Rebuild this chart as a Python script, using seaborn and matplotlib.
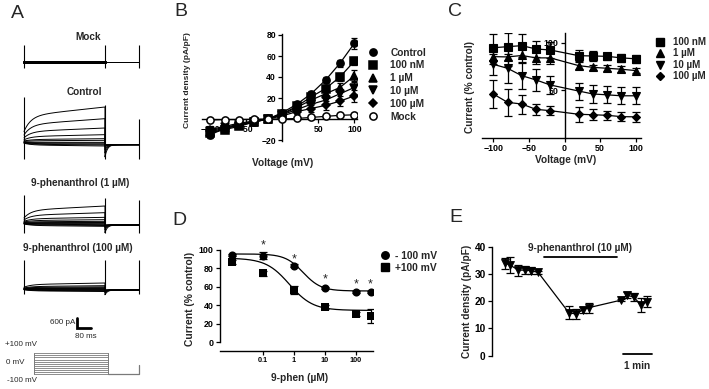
import numpy as np
import pandas as pd
import matplotlib
matplotlib.use("Agg")
import matplotlib.pyplot as plt
from matplotlib.lines import Line2D
import seaborn as sns

sns.set_theme(style="white")
plt.rcParams['font.family'] = ['Liberation Sans', 'DejaVu Sans']
plt.rcParams['font.weight'] = 'bold'
plt.rcParams['axes.linewidth'] = 1.0
plt.rcParams['axes.edgecolor'] = 'black'
plt.rcParams['xtick.color'] = 'black'
plt.rcParams['ytick.color'] = 'black'

# ---------------- data ----------------
# Panel A : step amplitudes (pA, end of pulse) for -100..+100 mV steps
step_mV = [-100, -80, -60, -40, -20, 0, 20, 40, 60, 80, 100]
amp_mock = [0, 0, 0, 0, 0, 0, 0, 0, 0, 0, 0]
amp_control = [-240, -180, -130, -70, -20, 100, 200, 440, 840, 1400, 2100]
amp_1uM = [-200, -150, -100, -50, -10, 30, 100, 200, 340, 620, 1020]
amp_100uM = [-150, -110, -80, -50, -20, 10, 40, 80, 130, 200, 360]

# Panel B : I-V
iv_voltage = [-100, -80, -60, -40, -20, 0, 20, 40, 60, 80, 100]
iv_control = [-15, -9, -5.6, -2.5, 0, 6, 14, 24, 37, 53, 72]
iv_100nM = [-13, -10, -7, -3, 0, 5, 12, 21, 29, 40, 55]
iv_1uM = [-12, -9, -6, -3, 0, 4.5, 11, 18, 24, 30, 41]
iv_10uM = [-11, -8, -5, -2.5, 0, 4, 9, 14, 18, 24, 30]
iv_100uM = [-10, -7, -4, -2, 0, 3, 7, 10, 13, 17, 22]
iv_mock = [-1, -0.5, -0.5, -0.3, 0, 0, 0.5, 1.5, 2.5, 3.5, 4]
err_control = [3, 2.5, 2, 1.5, 1, 1.5, 2, 3, 3, 3, 5]
err_100nM = [3, 3, 2, 1.5, 1, 1.5, 2, 3, 3, 4, 4]
err_1uM = [3, 3, 2, 1.5, 1, 1.5, 2, 3, 3, 4, 6]
err_10uM = [3, 3, 2, 1.5, 1, 1.5, 2, 3, 4, 5, 6]
err_100uM = [3, 3, 2, 1.5, 1, 1.5, 2, 3, 4, 5, 6]
err_mock = [0.5] * 11
b_labels = ['Control', '100 nM', '1 µM', '10 µM', '100 µM', 'Mock']

# Panel C : % control
c_voltage = [-100, -80, -60, -40, -20, 20, 40, 60, 80, 100]
c_100nM = [94.7, 95.8, 96.9, 93.4, 92.3, 86.3, 86, 85.6, 84, 83]
c_1uM = [85.3, 85, 86.5, 84, 84, 75.8, 74, 73, 72, 70.6]
c_10uM = [77.2, 73, 65.2, 60.7, 55.4, 49, 45.9, 45, 44, 44]
c_100uM = [45.9, 37.1, 35.3, 29.7, 28.3, 24.5, 24, 23.4, 22, 21.8]
cerr_100nM = [14, 14, 12, 8, 8, 6, 5, 4, 4, 4]
cerr_1uM = [8, 10, 8, 6, 6, 4, 3, 3, 3, 3]
cerr_10uM = [11, 15, 14, 12, 10, 9, 9, 9, 9, 9]
cerr_100uM = [15, 14, 10, 6, 5, 8, 6, 5, 5, 5]
c_labels = ['100 nM', '1 µM', '10 µM', '100 µM']

# Panel D : concentration-response
d_conc = [0.01, 0.1, 1, 10, 100, 300]
d_neg100 = [94.4, 93.6, 82.8, 59, 54, 54]
d_pos100 = [86.5, 74.6, 56.5, 38.5, 30.6, 28.4]
d_err_neg = [1, 4, 1.5, 1, 1, 1]
d_err_pos = [2, 3, 4, 2, 2, 8]
fit_neg = dict(top=95.5, bottom=55.5, ic50=2.0, hill=1.5)
fit_pos = dict(top=91.0, bottom=34.5, ic50=0.72, hill=1.15)
star_conc = [0.1, 1, 10, 100, 300]
star_level = [105, 90, 68, 63, 63]
d_labels = ['- 100 mV', '+100 mV']

# Panel E : time course
e_time = [0, 10, 28, 42, 54, 69, 133, 147, 162, 174, 242, 254, 269, 283, 295]
e_density = [34.0, 33.3, 31.4, 31.4, 31.2, 30.6, 15.8, 15.3, 16.8, 17.6,
             20.4, 22.3, 21.4, 18.6, 19.8]
e_sem = [2, 3, 2, 1.5, 1.2, 0.5, 2.5, 2, 1, 1.8, 0.5, 1, 1.5, 2.5, 2]
drug_start, drug_end, drug_level = 81, 233, 36.2
scale_start, scale_len = 246, 60

# ---------------- figure ----------------
W, H = 709, 389
fig = plt.figure(figsize=(W / 100, H / 100), dpi=100)


def ax_at(x0, y0, x1, y1):
    return fig.add_axes([x0 / W, 1 - y1 / H, (x1 - x0) / W, (y1 - y0) / H])


def ftext(x, y, s, **kw):
    fig.text(x / W, 1 - y / H, s, **kw)


def style_ticks(ax, size):
    ax.tick_params(axis='both', which='both', direction='out', length=3,
                   width=0.9, labelsize=size, pad=1.5, bottom=True, left=True)
    for lab in ax.get_xticklabels() + ax.get_yticklabels():
        lab.set_fontweight('bold')


# panel letters
for x, y, s in [(17.5, 13.5, 'A'), (181, 11.5, 'B'), (455, 11.5, 'C'),
                (179, 220, 'D'), (456, 217.5, 'E')]:
    ftext(x, y, s, fontsize=14, fontweight='normal', ha='center', va='center')

# ---------------- Panel A : traces ----------------
t_pulse = np.linspace(0, 460, 300)
t_tail = np.linspace(460, 655, 200)


def draw_traces(ax, amps, tail_gain, tail_ss, transients):
    for a in amps:
        i_p = a * (0.3 + 0.45 * (1 - np.exp(-t_pulse / 40)) + 0.25 * t_pulse / 460)
        i_t = tail_ss + (-tail_gain * max(a, 0)) * np.exp(-(t_tail - 460) / 14) \
            + min(a, 0) * 0.3 * np.exp(-(t_tail - 460) / 30)
        df = pd.DataFrame({'t': np.concatenate([t_pulse, t_tail]),
                           'i': np.concatenate([i_p, i_t])})
        sns.lineplot(data=df, x='t', y='i', ax=ax, color='black', lw=0.7,
                     sort=False, estimator=None)
    for tt, (lo, hi) in zip([0, 460, 655], transients):
        ax.vlines(tt, lo, hi, color='black', lw=0.8)


def trace_axes(y0, y1, base):
    ax = ax_at(20, y0, 142, y1)
    ax.set_xlim((20 - 24) * 5.68, (142 - 24) * 5.68)
    ax.set_ylim(-(y1 - base) * 60, (base - y0) * 60)
    ax.axis('off')
    return ax


# Mock
axm = trace_axes(43, 70, 62)
for a in amp_mock:
    sns.lineplot(x=t_pulse, y=np.full_like(t_pulse, a), ax=axm, color='black', lw=1.8)
    sns.lineplot(x=t_tail, y=np.full_like(t_tail, a), ax=axm, color='black', lw=0.7)
for tt in [0, 460, 655]:
    axm.vlines(tt, -360, 1020, color='black', lw=0.8)
ftext(88, 37, 'Mock', fontsize=7.2, ha='center', va='center')

axc = trace_axes(93, 162, 142)
draw_traces(axc, amp_control, 0.35, -160, [(-1000, 2700), (-1000, 2200), (-1000, 1400)])
ftext(84, 92, 'Control', fontsize=7.2, ha='center', va='center')

ax1 = trace_axes(192, 236, 223)
draw_traces(ax1, amp_1uM, 0.45, -120, [(-600, 1680), (-600, 1500), (-600, 1380)])
ftext(80, 183, '9-phenanthrol (1 µM)', fontsize=7.2, ha='center', va='center')

ax100 = trace_axes(257, 298, 289)
draw_traces(ax100, amp_100uM, 0.8, -60, [(-300, 1740), (-300, 1740), (-300, 1740)])
ftext(78, 248, '9-phenanthrol (100 µM)', fontsize=7.2, ha='center', va='center')

# scale bar (600 pA / 80 ms) drawn in trace units
axs = ax_at(70, 312, 100, 332)
axs.set_xlim(-40, 131)     # ms, 5.7 ms/px
axs.set_ylim(-240, 960)    # pA, 60 pA/px
axs.axis('off')
axs.plot([0, 0, 80], [600, 0, 0], color='black', lw=2.0, solid_joinstyle='miter')
ftext(75, 323, '600 pA', fontsize=5.8, fontweight='normal', ha='right', va='center')
ftext(86, 336, '80 ms', fontsize=5.8, fontweight='normal', ha='center', va='center')

# protocol
axp = ax_at(30, 350, 142, 378)
axp.set_xlim((30 - 34.3) * 6.27, (142 - 34.3) * 6.27)
axp.set_ylim((363.65 - 378) / 0.1035, (363.65 - 350) / 0.1035)
axp.axis('off')
for v in step_mV:
    axp.plot([0, 460], [v, v], color='#7a7a7a', lw=0.6)
axp.plot([0, 0], [-100, 100], color='#7a7a7a', lw=0.7)
axp.plot([460, 460], [-100, 100], color='#7a7a7a', lw=0.7)
axp.plot([460, 658, 658], [-104, -104, -15], color='#7a7a7a', lw=0.9)
ftext(37, 345, '+100 mV', fontsize=5.8, fontweight='normal', ha='right', va='center')
ftext(25, 363, '0 mV', fontsize=5.8, fontweight='normal', ha='right', va='center')
ftext(37, 381, '-100 mV', fontsize=5.8, fontweight='normal', ha='right', va='center')

# ---------------- Panel B ----------------
axB = ax_at(282.3 - 111 * 0.72, 119 - 81 * 1.05, 282.3 + 104 * 0.72, 119 + 21 * 1.05)
axB.set_xlim(-111, 104)
axB.set_ylim(-21, 81)
b_series = [(iv_control, err_control, 'o', 'black'),
            (iv_100nM, err_100nM, 's', 'black'),
            (iv_1uM, err_1uM, '^', 'black'),
            (iv_10uM, err_10uM, 'v', 'black'),
            (iv_100uM, err_100uM, 'D', 'black'),
            (iv_mock, err_mock, 'o', 'white')]
for vals, err, m, fc in b_series:
    axB.errorbar(iv_voltage, vals, yerr=err, fmt='none', ecolor='black',
                 elinewidth=0.9, capsize=2.5, capthick=0.9, zorder=2)
    ms = 4.2 if m == 'D' else 5.2
    sns.lineplot(x=iv_voltage, y=vals, ax=axB, color='black', lw=0.9, marker=m,
                 markersize=ms, markerfacecolor=fc, markeredgecolor='black',
                 markeredgewidth=1.1, zorder=3)
axB.spines['left'].set_position(('data', 0))
axB.spines['bottom'].set_position(('data', 0))
axB.spines['right'].set_visible(False)
axB.spines['top'].set_visible(False)
axB.set_xticks([-100, -50, 50, 100])
axB.set_yticks([-20, 20, 40, 60, 80])
axB.set_xlabel('')
axB.set_ylabel('')
style_ticks(axB, 6.2)
ftext(188, 80, 'Current density (pA/pF)', fontsize=6.1, rotation=90, ha='center', va='center')
ftext(283, 163, 'Voltage (mV)', fontsize=7.3, ha='center', va='center')
handles = [Line2D([], [], marker=m, color='black', linestyle='none',
                  markersize=(4.2 if m == 'D' else 5.2), markerfacecolor=fc,
                  markeredgewidth=1.1) for _, _, m, fc in b_series]
fig.legend(handles, b_labels, loc='upper left', bbox_to_anchor=(368 / W, 1 - 47.5 / H),
           frameon=False, prop={'size': 7.3, 'weight': 'bold'}, handlelength=1.0,
           handletextpad=1.2, labelspacing=0.28, borderpad=0, borderaxespad=0)

# ---------------- Panel C ----------------
axC = ax_at(564.5 - 116 * 0.712, 137.5 - 110 * 0.948, 564.5 + 108 * 0.712, 137.5)
axC.set_xlim(-116, 108)
axC.set_ylim(0, 110)
c_series = [(c_100nM, cerr_100nM, 's'), (c_1uM, cerr_1uM, '^'),
            (c_10uM, cerr_10uM, 'v'), (c_100uM, cerr_100uM, 'D')]
for vals, err, m in c_series:
    axC.errorbar(c_voltage, vals, yerr=err, fmt='none', ecolor='black',
                 elinewidth=0.9, capsize=3, capthick=0.9, zorder=2)
    sns.lineplot(x=c_voltage, y=vals, ax=axC, color='black', lw=0.9, marker=m,
                 markersize=(4.2 if m == 'D' else 5.2), markeredgecolor='black',
                 markeredgewidth=0.8, zorder=3)
axC.spines['left'].set_position(('data', 0))
axC.spines['right'].set_visible(False)
axC.spines['top'].set_visible(False)
axC.set_xticks([-100, -50, 0, 50, 100])
axC.set_yticks([50, 100])
axC.set_xlabel('')
axC.set_ylabel('')
style_ticks(axC, 6.4)
ftext(470, 87, 'Current (% control)', fontsize=7.3, rotation=90, ha='center', va='center')
ftext(566, 160, 'Voltage (mV)', fontsize=7.3, ha='center', va='center')
handlesC = [Line2D([], [], marker=m, color='black', linestyle='none',
                   markersize=(4.2 if m == 'D' else 5.2)) for _, _, m in c_series]
fig.legend(handlesC, c_labels, loc='upper left', bbox_to_anchor=(655 / W, 1 - 37 / H),
           frameon=False, prop={'size': 7.0, 'weight': 'bold'}, handlelength=1.0,
           handletextpad=0.85, labelspacing=0.15, borderpad=0, borderaxespad=0)

# ---------------- Panel D ----------------
axD = ax_at(219.5, 342.3 - 104 * 0.925, 373, 342.3)
axD.set_xscale('log')
axD.set_xlim(0.004, 360)
axD.set_ylim(0, 104)


def hill(x, top, bottom, ic50, hill):
    return bottom + (top - bottom) / (1 + (x / ic50) ** hill)


xs = np.logspace(-2, np.log10(300), 300)
for fit in (fit_neg, fit_pos):
    sns.lineplot(x=xs, y=hill(xs, **fit), ax=axD, color='black', lw=0.9)
for vals, err, m in [(d_neg100, d_err_neg, 'o'), (d_pos100, d_err_pos, 's')]:
    axD.errorbar(d_conc, vals, yerr=err, fmt='none', ecolor='black',
                 elinewidth=0.9, capsize=3, capthick=0.9, zorder=2)
    sns.scatterplot(x=d_conc, y=vals, ax=axD, marker=m, color='black',
                    s=34, edgecolor='black', linewidth=0, zorder=3)
for c, lv in zip(star_conc, star_level):
    axD.text(c, lv, '*', fontsize=9, fontweight='normal', ha='center', va='center')
axD.spines['right'].set_visible(False)
axD.spines['top'].set_visible(False)
axD.spines['bottom'].set_position(('outward', 6.3))
axD.spines['left'].set_bounds(0, 100)
axD.set_xticks([0.1, 1, 10, 100])
axD.set_xticklabels(['0.1', '1', '10', '100'])
axD.xaxis.set_minor_locator(matplotlib.ticker.NullLocator())
axD.set_yticks([0, 20, 40, 60, 80, 100])
axD.set_xlabel('')
axD.set_ylabel('')
style_ticks(axD, 6.4)
axD.tick_params(axis='x', labelsize=5.2)
for lab in axD.get_xticklabels():
    lab.set_fontweight('bold')
ftext(190, 299, 'Current (% control)', fontsize=7.4, rotation=90, ha='center', va='center')
ftext(300, 378, '9-phen (µM)', fontsize=7.3, ha='center', va='center')
handlesD = [Line2D([], [], marker=m, color='black', linestyle='none', markersize=5.4)
            for m in ['o', 's']]
fig.legend(handlesD, d_labels, loc='upper left', bbox_to_anchor=(380 / W, 1 - 251 / H),
           frameon=False, prop={'size': 7.4, 'weight': 'bold'}, handlelength=1.0,
           handletextpad=0.45, labelspacing=0.2, borderpad=0, borderaxespad=0)

# ---------------- Panel E ----------------
axE = ax_at(492, 246.7, 505 + 330 * 0.48, 355.7)
axE.set_xlim(-27, 330)
axE.set_ylim(0, 40)
axE.errorbar(e_time, e_density, yerr=e_sem, fmt='none', ecolor='black',
             elinewidth=0.9, capsize=3, capthick=0.9, zorder=2)
sns.lineplot(x=e_time, y=e_density, ax=axE, color='black', lw=0.9, marker='v',
             markersize=6, markeredgecolor='black', markeredgewidth=0.6, zorder=3)
axE.plot([drug_start, drug_end], [drug_level, drug_level], color='black', lw=1.3, clip_on=False)
axE.text((drug_start + drug_end) / 2, 39.5, '9-phenanthrol (10 µM)', fontsize=7.2,
         ha='center', va='center')
axE.plot([scale_start, scale_start + scale_len], [0.6, 0.6], color='black', lw=1.3, clip_on=False)
axE.text(scale_start + scale_len / 2, -3.8, '1 min', fontsize=7.2, ha='center', va='center')
axE.spines['right'].set_visible(False)
axE.spines['top'].set_visible(False)
axE.spines['bottom'].set_visible(False)
axE.set_xticks([])
axE.set_yticks([0, 10, 20, 30, 40])
axE.set_xlabel('')
axE.set_ylabel('')
style_ticks(axE, 7.3)
ftext(467, 301, 'Current density (pA/pF)', fontsize=7.3, rotation=90, ha='center', va='center')

fig.savefig('out.png', dpi=100, facecolor='white')
